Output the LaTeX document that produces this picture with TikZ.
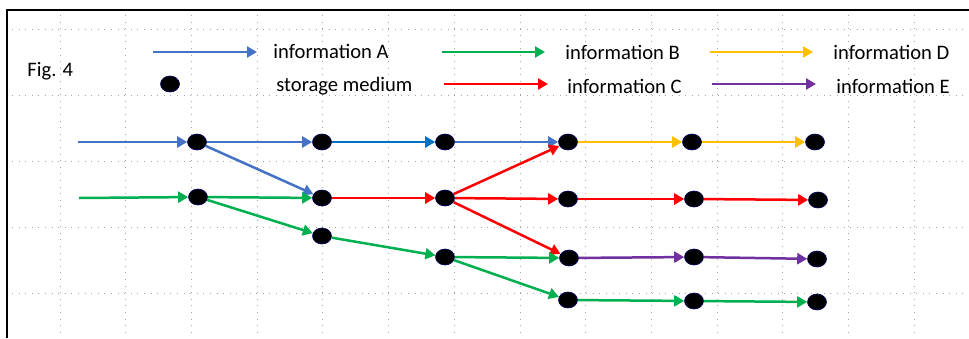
\documentclass[tikz,border=0pt]{standalone}
\usepackage{fontspec}
\setmainfont{Carlito}
\usetikzlibrary{arrows.meta,shapes.geometric}
\definecolor{infoA}{HTML}{4472C4}
\definecolor{infoAdark}{HTML}{0070C0}
\definecolor{infoB}{HTML}{00B050}
\definecolor{infoC}{HTML}{FF0000}
\definecolor{infoD}{HTML}{FFC000}
\definecolor{infoE}{HTML}{7030A0}
\tikzset{
    store/.style={ellipse, fill=black, draw=black!60!blue, line width=0.3pt, minimum width=9.5pt, minimum height=8pt, inner sep=0pt},
    flow/.style={line width=1.25pt, -{Triangle[length=5pt,width=5.5pt]}},
    label/.style={anchor=base west, inner sep=0pt, font=\fontsize{10.3}{12}\selectfont},
    gridline/.style={gray!70, line width=0.4pt, dash pattern=on 0.5pt off 2.8pt}
}
\begin{document}
\begin{tikzpicture}[x=0.5pt, y=-0.5pt]
                \useasboundingbox (0,0) rectangle (969,338);
                % Siatka
                \foreach \gx in {60,125.7,191.4,257.1,322.8,388.5,454.2,519.9,585.6,651.3,717,782.7,848.4,914.1}
                    \draw[gridline] (\gx,15) -- (\gx,338);
                \foreach \gy in {29,95,161,227,293}
                    \draw[gridline] (12,\gy) -- (969,\gy);
                % Ramka
                \draw[line width=1pt] (7,338) -- (7,10) -- (969,10);

                % Legenda
                \node (fig) at (27,76) [label] {Fig. 4};
                \coordinate (la0) at (153,52); \coordinate (la1) at (257,52);
                \coordinate (lb0) at (442,52); \coordinate (lb1) at (545,52);
                \coordinate (lc0) at (444,84); \coordinate (lc1) at (548,84);
                \coordinate (ld0) at (710,52); \coordinate (ld1) at (813,52);
                \coordinate (le0) at (712,84); \coordinate (le1) at (816,84);
                \draw[flow, infoA] (la0) -- (la1);
                \draw[flow, infoB] (lb0) -- (lb1);
                \draw[flow, infoC] (lc0) -- (lc1);
                \draw[flow, infoD] (ld0) -- (ld1);
                \draw[flow, infoE] (le0) -- (le1);
                \node (ldot) at (170,84) [store] {};
                \node (ta) at (273,58) [label] {information A};
                \node (ts) at (276,91) [label] {storage medium};
                \node (tb) at (565,59) [label] {information B};
                \node (tc) at (567,93) [label] {information C};
                \node (td) at (833,59) [label] {information D};
                \node (te) at (836,93) [label] {information E};

                % Nosniki
                \node (s11) at (197,142) [store] {};
                \node (s12) at (198,197) [store] {};
                \node (s21) at (322,142) [store] {};
                \node (s22) at (322,198) [store] {};
                \node (s23) at (322,236) [store] {};
                \node (s31) at (445,142) [store] {};
                \node (s32) at (445,198) [store] {};
                \node (s33) at (445,257) [store] {};
                \node (s41) at (568,142) [store] {};
                \node (s42) at (568,199) [store] {};
                \node (s43) at (569,258) [store] {};
                \node (s44) at (568,300) [store] {};
                \node (s51) at (692,142) [store] {};
                \node (s52) at (694,199) [store] {};
                \node (s53) at (694,257) [store] {};
                \node (s54) at (694,301) [store] {};
                \node (s61) at (815,142) [store] {};
                \node (s62) at (818,200) [store] {};
                \node (s63) at (817,259) [store] {};
                \node (s64) at (817,302) [store] {};

                % Przeplyw informacji
                \coordinate (inA) at (78,142);
                \coordinate (inB) at (79,198);
                \draw[flow, infoA] (inA) -- (s11);
                \draw[flow, infoB] (inB) -- (s12);
                \draw[flow, infoA] (s11) -- (s21);
                \draw[flow, infoA] (s11) -- (s22);
                \draw[flow, infoB] (s12) -- (s22);
                \draw[flow, infoB] (s12) -- (s23);
                \draw[flow, infoAdark] (s21) -- (s31);
                \draw[flow, infoC] (s22) -- (s32);
                \draw[flow, infoB] (s23) -- (s33);
                \draw[flow, infoA] (s31) -- (s41);
                \draw[flow, infoC] (s32) -- (s41);
                \draw[flow, infoC] (s32) -- (s42);
                \draw[flow, infoC] (s32) -- (s43);
                \draw[flow, infoB] (s33) -- (s43);
                \draw[flow, infoB] (s33) -- (s44);
                \draw[flow, infoD] (s41) -- (s51);
                \draw[flow, infoD] (s51) -- (s61);
                \draw[flow, infoC] (s42) -- (s52);
                \draw[flow, infoC] (s52) -- (s62);
                \draw[flow, infoE] (s43) -- (s53);
                \draw[flow, infoE] (s53) -- (s63);
                \draw[flow, infoB] (s44) -- (s54);
                \draw[flow, infoB] (s54) -- (s64);

            \end{tikzpicture}
\end{document}
